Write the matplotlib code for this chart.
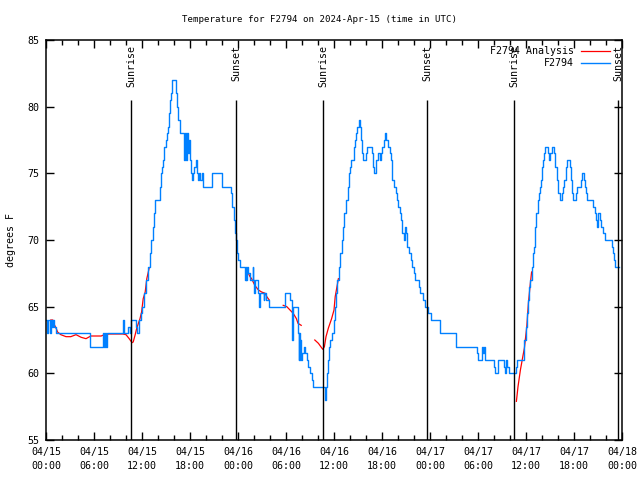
import numpy as np
import matplotlib
matplotlib.use('Agg')
import matplotlib.pyplot as plt
import matplotlib.dates as mdates

# hours since 2024-04-15 00:00 UTC, temperature in degrees F
blue_hours = [
    0.0, 0.15, 0.3, 0.45, 0.6, 0.75, 0.9, 1.05, 1.25, 5.5, 7.1, 7.2, 7.35, 7.45, 7.6,
    9.6, 9.75, 10.3, 10.45, 10.6, 11.2, 11.4, 11.6, 11.85, 12.05, 12.25, 12.45, 12.7,
    12.95, 13.15, 13.35, 13.5, 13.6, 14.2, 14.35, 14.5, 14.65, 14.8, 14.95, 15.1, 15.3,
    15.4, 15.5, 15.65, 15.75, 16.25, 16.4, 16.55, 16.75, 17.3, 17.4, 17.5, 17.6, 17.7,
    17.85, 17.95, 18.1, 18.25, 18.4, 18.55, 18.7, 18.85, 19.0, 19.15, 19.3, 19.45, 19.6,
    20.7, 21.95, 23.1, 23.25, 23.45, 23.6, 23.75, 23.9, 24.05,
    24.2, 24.9, 24.95, 25.05, 25.1, 25.3, 25.5, 25.83, 25.9, 26.0, 26.05, 26.1, 26.55,
    26.65, 26.75, 27.2, 27.3, 27.5, 27.9, 29.9, 30.55, 30.7, 30.8, 30.85, 30.92, 31.55,
    31.6, 31.65, 31.7, 31.8, 31.85, 32.0, 32.2, 32.4, 32.6, 32.8, 33.0, 33.2, 33.4,
    34.85, 35.0, 35.1, 35.2, 35.35, 35.55, 35.75, 35.95, 36.1, 36.25, 36.4, 36.6, 36.8,
    37.0, 37.1, 37.3, 37.5, 37.7, 37.85, 38.0, 38.15, 38.45, 38.6, 38.75, 38.9, 39.1,
    39.25, 39.35, 39.45, 39.6, 40.05, 40.15, 40.75, 40.9, 41.05, 41.3, 41.5, 41.7, 41.9,
    42.05, 42.25, 42.35, 42.5, 42.7, 42.95, 43.15, 43.3, 43.45, 43.7, 43.85, 44.0, 44.2,
    44.4, 44.55, 44.7, 44.85, 44.95, 45.1, 45.35, 45.6, 45.8, 45.95, 46.1, 46.6, 46.8,
    47.1, 47.35, 47.75,
    48.1, 49.25, 51.25, 53.9, 54.0, 54.55, 54.65, 54.75, 54.85, 56.0, 56.1, 56.45, 57.2,
    57.35, 57.5, 57.65, 57.85, 58.75, 58.9, 59.7, 59.8, 59.95, 60.1, 60.25, 60.4, 60.55,
    60.75, 60.85, 61.0, 61.1, 61.3, 61.45, 61.6, 61.75, 61.9, 62.05, 62.15, 62.3, 62.4,
    62.7, 62.85, 63.05, 63.2, 63.5, 63.65, 63.85, 64.05, 64.25, 64.5, 64.65, 64.8, 64.95,
    65.1, 65.45, 65.6, 65.75, 65.9, 66.25, 66.4, 66.85, 67.05, 67.2, 67.4, 67.55, 67.65,
    68.35, 68.6, 68.7, 68.85, 68.95, 69.05, 69.2, 69.4, 69.6, 69.85, 70.7, 70.85, 70.95,
    71.1, 71.6,
]
blue_temps = [
    64, 63, 64, 63, 64, 63.5, 64, 63.5, 63, 62, 63, 62, 63, 62, 63,
    64, 63, 63.5, 63, 64, 63.5, 63, 64, 64.5, 65, 66, 67, 68,
    69, 70, 71, 72, 73, 74, 75, 75.5, 76, 77, 77.5, 78, 78.5,
    79.5, 80.5, 81, 82, 81, 80, 79, 78, 76, 78, 76, 78, 76.5,
    77.5, 76, 75, 74.5, 75, 75.5, 76, 75, 74.5, 75, 74.5, 75, 74,
    75, 74, 73.5, 72.5, 71.5, 70.5, 70, 69, 68.5,
    68, 67, 68, 67, 68, 67.5, 67, 68, 67, 66.5, 66, 67, 66,
    65, 66, 65.5, 66, 65.5, 65, 66, 65.5, 64, 62.5, 64, 65, 63,
    61, 63, 61, 62.5, 61, 61.5, 62, 61.5, 61, 60.5, 60, 59.5, 59,
    58, 59, 60, 61, 62, 62.5, 63, 64, 65, 66, 67, 68, 69,
    70, 71, 72, 73, 74, 75, 75.5, 76, 77, 77.5, 78, 78.5, 79,
    78.5, 77.5, 76.5, 76, 76.5, 77, 76.5, 75.5, 75, 76, 76.5, 76, 76.5,
    77, 77.5, 78, 77.5, 77, 76.5, 76, 74.5, 74, 73.5, 73, 72.5, 72,
    71.5, 70.5, 70, 71, 70.5, 69.5, 69, 68.5, 68, 67.5, 67, 66.5, 66,
    65.5, 65, 64.5,
    64, 63, 62, 61.5, 61, 62, 61.5, 62, 61, 60.5, 60, 61, 60.5,
    60, 61, 60.5, 60, 60.5, 61, 62, 62.5, 63.5, 64.5, 65.5, 66.5, 67,
    68, 69, 69.5, 71, 72, 73, 73.5, 74, 74.5, 75.5, 76, 76.5, 77,
    76.5, 76, 76.5, 77, 76.5, 75.5, 74.5, 73.5, 73, 73.5, 74, 74.5, 75.5,
    76, 75.5, 74.5, 73.5, 73, 73.5, 74, 74.5, 75, 74.5, 74, 73.5, 73,
    72.5, 72, 71.5, 71, 71.5, 72, 71.5, 71, 70.5, 70, 69.5, 69, 68.5,
    68, 68,
]

nan = np.nan
red_hours = [
    0.6, 0.85, 1.0, 1.25, 1.45, 1.85, 2.5, 3.1, 3.75, 4.4, 5.0, 5.6, 6.9, 7.3, 7.9, 9.6,
    10.0, 10.4, 10.75, 10.9, 11.15, 11.35, 11.75, 11.95, 12.15, 12.4, 12.6, 12.9, 13.0,
    25.3, 25.5, 25.7, 26.1, 26.55, 26.95, 27.4, 27.6, 27.9, 28.0,
    29.65, 30.1, 30.5, 30.9, 31.3, 31.5, 31.9, 32.0,
    33.6, 34.05, 34.35, 34.6, 34.8, 35.0, 35.3, 35.7, 36.0, 36.15, 36.55, 36.6,
    58.8, 59.0, 59.3, 59.6, 59.8, 60.1, 60.3, 60.5, 60.7,
]
red_temps = [
    64, 64, 63.7, 63.4, 63.1, 62.9, 62.75, 62.75, 62.9, 62.7, 62.6, 62.8, 62.8, 62.9, 62.95, 62.95,
    62.9, 62.6, 62.3, 62.35, 62.9, 63.4, 64.1, 64.6, 65.6, 66.1, 67.1, 67.9, nan,
    67.5, 67.25, 67.1, 66.6, 66.25, 66.1, 66.0, 65.75, 65.5, nan,
    65.1, 65.0, 64.75, 64.5, 64.1, 63.75, 63.6, nan,
    62.5, 62.25, 62.0, 61.8, 62.0, 62.75, 63.4, 64.1, 64.75, 65.75, 67.1, nan,
    57.9, 59.0, 60.25, 61.25, 61.9, 63.5, 65.25, 66.5, 67.6,
]

sun_labels = ["Sunrise", "Sunset", "Sunrise", "Sunset", "Sunrise", "Sunset"]
sun_hours = [10.62, 23.75, 34.62, 47.66, 58.54, 71.54]

start = np.datetime64("2024-04-15T00:00")


def to_time(hours):
    minutes = np.round(np.array(hours) * 60).astype(int)
    return start + minutes.astype("timedelta64[m]")


plt.rcParams["font.family"] = ["DejaVu Sans Mono"]
plt.rcParams["font.size"] = 7.2

fig = plt.figure(figsize=(6.4, 4.8), dpi=100)
ax = fig.add_axes([46 / 640, 40 / 480, 576 / 640, 400 / 480])

ax.plot(to_time(red_hours), red_temps, color="#ff0000", lw=0.9)
ax.plot(to_time(blue_hours), blue_temps, color="#0080ff", lw=1.0, drawstyle="steps-post")

for label, h in zip(sun_labels, sun_hours):
    t = to_time([h])[0]
    ax.vlines(t, 55, 80.5, color="black", lw=1.0)
    ax.text(t, 84.6, label, rotation=90, ha="center", va="top")

ax.set_xlim(start, start + np.timedelta64(72, "h"))
ax.set_ylim(55, 85)
ax.set_yticks(np.arange(55, 86, 5))
ax.xaxis.set_major_locator(mdates.HourLocator(byhour=[0, 6, 12, 18]))
ax.xaxis.set_minor_locator(mdates.HourLocator(byhour=range(0, 24, 2)))
ax.xaxis.set_major_formatter(mdates.DateFormatter("%m/%d\n%H:%M"))
ax.tick_params(which="both", direction="in", top=True, right=True, width=1, pad=5)
ax.tick_params(which="major", length=6)
ax.tick_params(which="minor", length=3.5)
for tk in ax.xaxis.get_major_ticks():
    tk.label1.set_linespacing(1.55)
for s in ax.spines.values():
    s.set_linewidth(1.1)

ax.set_ylabel("degrees F", labelpad=8)
fig.text(0.5, 1 - 19 / 480, "Temperature for F2794 on 2024-Apr-15 (time in UTC)",
         fontsize=6.6, ha="center", va="center")

# legend, gnuplot style (text right aligned, sample to the right)
ax.text(0.9167, 0.973, "F2794 Analysis", transform=ax.transAxes, ha="right", va="center")
ax.text(0.9167, 0.942, "F2794", transform=ax.transAxes, ha="right", va="center")
ax.plot([0.929, 0.979], [0.973, 0.973], color="#ff0000", lw=0.9, transform=ax.transAxes)
ax.plot([0.929, 0.979], [0.942, 0.942], color="#0080ff", lw=1.0, transform=ax.transAxes)

fig.savefig("out.png", dpi=100)
plt.close(fig)
